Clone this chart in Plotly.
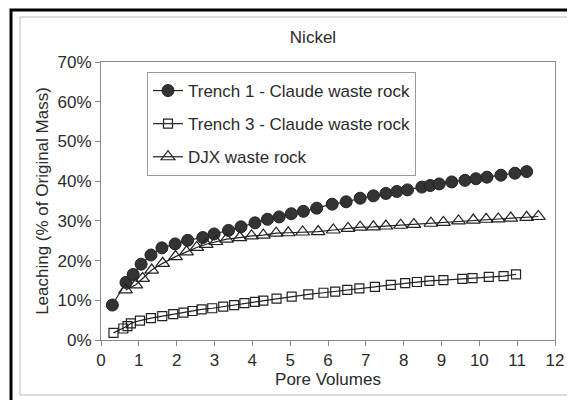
import plotly.graph_objects as go

# Data
trench1_x = [0.30, 0.66, 0.85, 1.06, 1.32, 1.61, 1.96, 2.29, 2.69, 2.99, 3.37, 3.70, 4.07, 4.40, 4.71,
             5.03, 5.35, 5.70, 6.11, 6.48, 6.85, 7.20, 7.53, 7.82, 8.10, 8.48, 8.70, 8.94, 9.27, 9.62,
             9.91, 10.20, 10.57, 10.94, 11.25]
trench1_y = [8.8, 14.5, 16.5, 19.1, 21.4, 23.2, 24.2, 25.1, 25.8, 26.7, 27.6, 28.5, 29.5, 30.4, 31.0,
             31.8, 32.4, 33.2, 34.2, 34.8, 35.7, 36.3, 36.9, 37.4, 37.8, 38.5, 38.9, 39.3, 39.8, 40.2,
             40.6, 41.0, 41.5, 42.0, 42.4]

trench3_x = [0.33, 0.59, 0.70, 0.79, 1.03, 1.32, 1.62, 1.91, 2.18, 2.42, 2.66, 2.94, 3.23, 3.52, 3.79,
             4.07, 4.29, 4.64, 5.04, 5.48, 5.88, 6.19, 6.51, 6.83, 7.24, 7.66, 8.04, 8.35, 8.68, 9.05,
             9.55, 9.82, 10.25, 10.64, 10.97]
trench3_y = [1.8, 2.9, 3.5, 4.2, 4.9, 5.5, 6.0, 6.5, 6.9, 7.3, 7.7, 8.0, 8.4, 8.8, 9.3,
             9.6, 9.9, 10.4, 10.9, 11.5, 11.9, 12.2, 12.6, 13.0, 13.4, 13.9, 14.3, 14.6, 14.9, 15.1,
             15.4, 15.6, 15.9, 16.1, 16.5]

djx_x = [0.65, 0.92, 1.10, 1.34, 1.63, 1.97, 2.26, 2.53, 2.78, 3.04, 3.32, 3.67, 3.98, 4.29, 4.63,
         4.95, 5.33, 5.74, 6.14, 6.53, 6.85, 7.20, 7.53, 7.92, 8.27, 8.72, 9.05, 9.45, 9.84, 10.18,
         10.50, 10.83, 11.25, 11.56]
djx_y = [12.6, 13.9, 15.5, 17.6, 19.3, 21.0, 22.2, 23.3, 24.1, 24.8, 25.4, 25.8, 26.2, 26.4, 26.9,
         27.0, 27.2, 27.3, 27.7, 28.1, 28.4, 28.5, 28.7, 28.9, 29.1, 29.4, 29.6, 30.0, 30.2, 30.4,
         30.5, 30.7, 30.9, 31.1]

series_names = ["Trench 1 - Claude waste rock", "Trench 3 - Claude waste rock", "DJX waste rock"]
x_ticks = list(range(0, 13))
y_ticks = [0, 0.1, 0.2, 0.3, 0.4, 0.5, 0.6, 0.7]

FONT = "Liberation Sans, Arial, sans-serif"
FS = 17
TXT = "#2b2b2b"
LINE = "#222222"

fig = go.Figure()
fig.add_trace(go.Scatter(
    x=trench1_x, y=[v / 100 for v in trench1_y], name=series_names[0], mode="lines+markers",
    line=dict(color=LINE, width=1.2),
    marker=dict(symbol="circle", size=12, color="#333333", line=dict(color="#222222", width=1)),
    legendgroup="a"))
fig.add_trace(go.Scatter(
    x=trench3_x, y=[v / 100 for v in trench3_y], name=series_names[1], mode="lines+markers",
    line=dict(color=LINE, width=1.2),
    marker=dict(symbol="square-open", size=9, color="#222222", line=dict(width=1.2)),
    legendgroup="b"))
fig.add_trace(go.Scatter(
    x=djx_x, y=[v / 100 for v in djx_y], name=series_names[2], mode="lines+markers",
    line=dict(color=LINE, width=1.2),
    marker=dict(symbol="triangle-up-open", size=12, color="#222222", line=dict(width=1.2)),
    legendgroup="c"))

# The page body has an 8px margin, so figure coords = page coords - 8
OFF = 8
W, H = 567, 392
# plot area in page pixels: x 101..555, y 62..340
L, R, T, B = 101 - OFF, W - (555 - OFF), 62 - OFF, H - (340 - OFF)
pw, ph = W - L - R, H - T - B

def px(xpage):
    return (xpage - OFF - L) / pw

def py(ypage):
    return (H - B - (ypage - OFF)) / ph

fig.update_layout(
    width=W, height=H,
    margin=dict(l=L, r=R, t=T, b=B),
    paper_bgcolor="white", plot_bgcolor="white",
    font=dict(family=FONT, size=FS, color=TXT),
    title=dict(text="Nickel", x=px(313), xref="paper", xanchor="center",
               y=1 - (37 - OFF) / H, yref="container", yanchor="middle",
               font=dict(family=FONT, size=FS, color=TXT)),
    showlegend=True,
    legend=dict(x=px(147), y=py(72), xanchor="left", yanchor="top",
                bordercolor="#9a9a9a", borderwidth=1, bgcolor="white",
                font=dict(family=FONT, size=FS, color=TXT),
                tracegroupgap=8, itemwidth=30),
    xaxis=dict(range=[0, 12], tickvals=x_ticks, ticktext=[str(v) for v in x_ticks],
               showgrid=False, zeroline=False, showline=True, linecolor="#8a8a8a", linewidth=1,
               mirror=True, ticks="outside", ticklen=5, tickcolor="#8a8a8a",
               tickfont=dict(family=FONT, size=FS, color=TXT),
               title=dict(text="Pore Volumes", standoff=0, font=dict(family=FONT, size=FS, color=TXT))),
    yaxis=dict(range=[0, 0.7], tickvals=y_ticks, ticktext=[f"{int(round(v*100))}%" for v in y_ticks],
               showgrid=False, zeroline=False, showline=True, linecolor="#8a8a8a", linewidth=1,
               mirror=True, ticks="outside", ticklen=5, tickcolor="#8a8a8a",
               tickfont=dict(family=FONT, size=FS, color=TXT),
               title=dict(text="Leaching (% of Original Mass)", standoff=4,
                          font=dict(family=FONT, size=FS, color=TXT))),
    shapes=[
        dict(type="rect", xref="paper", yref="paper", x0=px(11), x1=px(600), y0=py(420), y1=py(10),
             line=dict(color="black", width=3), layer="below"),
        dict(type="rect", xref="paper", yref="paper", x0=px(20), x1=px(573), y0=py(395), y1=py(17),
             line=dict(color="#b8b8b8", width=1), layer="below"),
    ],
)

fig.write_html("out.html")
